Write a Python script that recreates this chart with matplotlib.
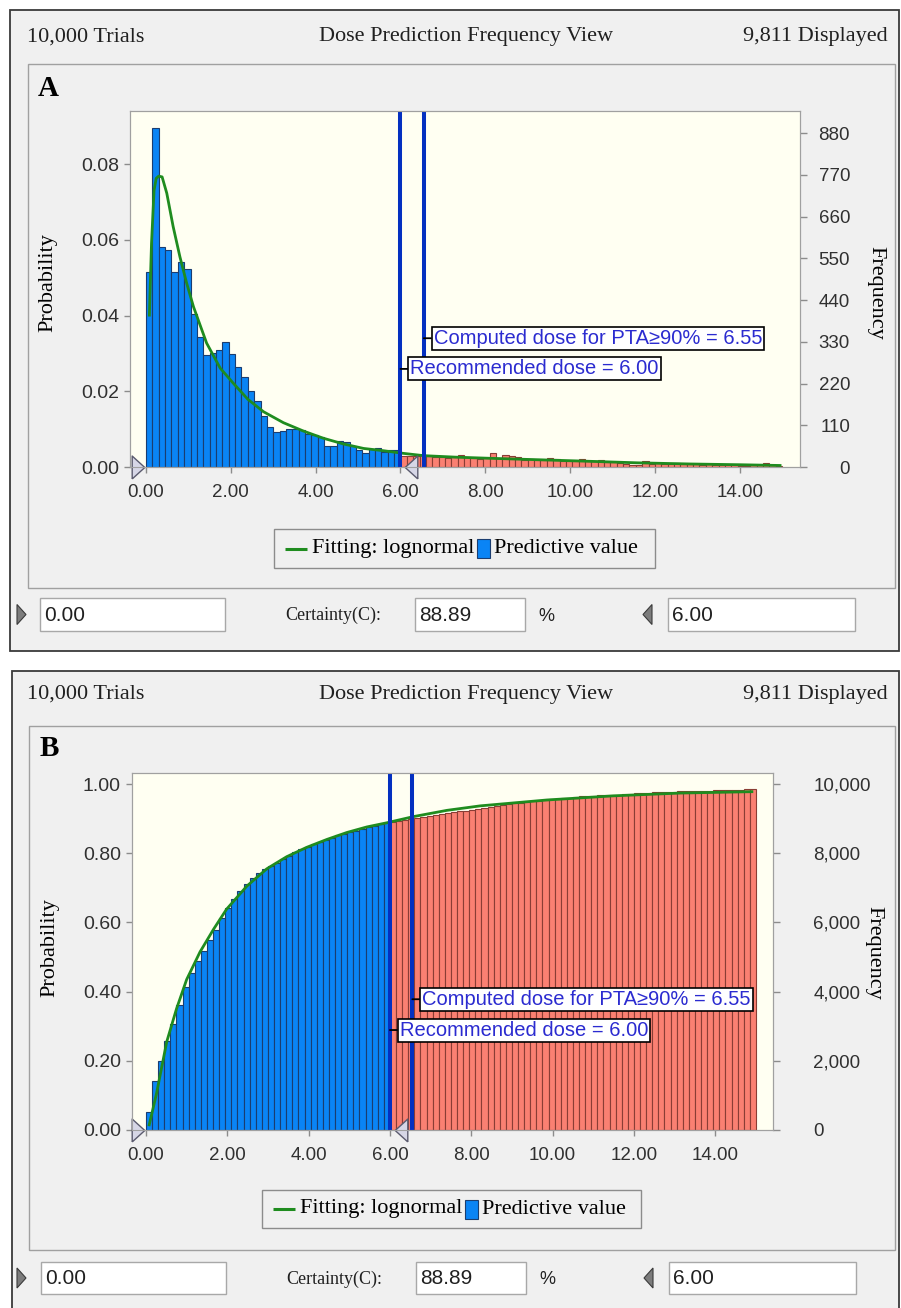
#!/usr/bin/env python3
"""Dose prediction views (Crystal Ball style): frequency (A) and cumulative (B)."""
import numpy as np
import matplotlib

matplotlib.use("Agg")
import matplotlib.pyplot as plt
from matplotlib.patches import Rectangle, Polygon

W, H = 901, 1308

# ---------------- data ----------------
bin_edges = np.linspace(0.0, 15.0, 101)  # 100 bins, 0.15 wide
cut_bin = 40  # bins below the 6.00 marker are blue

prob_freq = [
    0.0514, 0.0894, 0.0582, 0.0573, 0.0514, 0.0542, 0.0522, 0.0404, 0.0342, 0.0296,
    0.0300, 0.0309, 0.0331, 0.0298, 0.0263, 0.0237, 0.0201, 0.0173, 0.0135, 0.0106,
    0.0092, 0.0096, 0.0100, 0.0100, 0.0098, 0.0087, 0.0084, 0.0078, 0.0055, 0.0056,
    0.0069, 0.0065, 0.0055, 0.0045, 0.0038, 0.0047, 0.0049, 0.0040, 0.0045, 0.0045,
    0.0030, 0.0028, 0.0030, 0.0031, 0.0028, 0.0026, 0.0026, 0.0025, 0.0026, 0.0031,
    0.0027, 0.0024, 0.0021, 0.0023, 0.0036, 0.0023, 0.0032, 0.0029, 0.0027, 0.0019,
    0.0020, 0.0019, 0.0018, 0.0025, 0.0020, 0.0017, 0.0016, 0.0015, 0.0020, 0.0015,
    0.0016, 0.0019, 0.0013, 0.0012, 0.0011, 0.0008, 0.0006, 0.0006, 0.0015, 0.0009,
    0.0011, 0.0008, 0.0007, 0.0011, 0.0008, 0.0007, 0.0007, 0.0006, 0.0007, 0.0006,
    0.0006, 0.0004, 0.0004, 0.0003, 0.0003, 0.0004, 0.0005, 0.0011, 0.0004, 0.0002,
]

prob_cum = [
    0.0514, 0.1408, 0.1990, 0.2563, 0.3077, 0.3619, 0.4141, 0.4545, 0.4887, 0.5183,
    0.5483, 0.5792, 0.6123, 0.6421, 0.6684, 0.6921, 0.7122, 0.7295, 0.7430, 0.7536,
    0.7628, 0.7724, 0.7824, 0.7924, 0.8022, 0.8109, 0.8193, 0.8271, 0.8326, 0.8382,
    0.8451, 0.8516, 0.8571, 0.8616, 0.8654, 0.8701, 0.8750, 0.8790, 0.8835, 0.8880,
    0.8910, 0.8938, 0.8968, 0.8999, 0.9027, 0.9053, 0.9079, 0.9104, 0.9130, 0.9161,
    0.9188, 0.9212, 0.9233, 0.9256, 0.9292, 0.9315, 0.9347, 0.9376, 0.9403, 0.9422,
    0.9442, 0.9461, 0.9479, 0.9504, 0.9524, 0.9541, 0.9557, 0.9572, 0.9592, 0.9607,
    0.9623, 0.9642, 0.9655, 0.9667, 0.9678, 0.9686, 0.9692, 0.9698, 0.9713, 0.9722,
    0.9733, 0.9741, 0.9748, 0.9759, 0.9767, 0.9774, 0.9781, 0.9787, 0.9794, 0.9800,
    0.9806, 0.9810, 0.9814, 0.9817, 0.9820, 0.9824, 0.9829, 0.9840, 0.9844, 0.9846,
]

# lognormal fit
fit_freq_x = [0.08, 0.13, 0.19, 0.24, 0.30, 0.38, 0.49, 0.64, 0.80, 0.96, 1.12,
              1.43, 1.75, 2.06, 2.40, 2.77, 3.24, 3.71, 4.18, 4.65, 5.13, 5.60,
              6.07, 6.54, 7.30, 8.11, 9.30, 10.47, 11.60, 12.83, 14.00, 14.95]
fit_freq_y = [0.0401, 0.0590, 0.0730, 0.0762, 0.0768, 0.0766, 0.0723, 0.0635, 0.0555,
              0.0485, 0.0423, 0.0327, 0.0261, 0.0221, 0.0179, 0.0146, 0.0117, 0.0095,
              0.0076, 0.0061, 0.0049, 0.0043, 0.0036, 0.0030, 0.0026, 0.0023, 0.0019,
              0.0015, 0.0011, 0.0008, 0.0006, 0.0004]

fit_cum_x = [0.08, 0.26, 0.51, 0.75, 1.00, 1.33, 1.66, 1.98, 2.48, 2.97, 3.46, 3.95,
             4.45, 4.94, 5.43, 5.92, 6.58, 7.40, 8.22, 9.86, 11.50, 13.14, 14.90]
fit_cum_y = [0.015, 0.106, 0.255, 0.350, 0.435, 0.515, 0.580, 0.638, 0.705, 0.755,
             0.790, 0.817, 0.840, 0.860, 0.876, 0.888, 0.906, 0.924, 0.937, 0.954,
             0.966, 0.974, 0.978]

recommended_dose = 6.00
computed_dose = 6.55
lower_value = "0.00"
upper_value = "6.00"
certainty_value = "88.89"

trials_text = "10,000 Trials"
title_text = "Dose Prediction Frequency View"
displayed_text = "9,811 Displayed"
rec_label = "Recommended dose = 6.00"
comp_label = "Computed dose for PTA\u226590% = 6.55"

x_ticks = [0, 2, 4, 6, 8, 10, 12, 14]
x_ticklabels = ["0.00", "2.00", "4.00", "6.00", "8.00", "10.00", "12.00", "14.00"]

a_prob_ticks = [0.0, 0.02, 0.04, 0.06, 0.08]
a_prob_labels = ["0.00", "0.02", "0.04", "0.06", "0.08"]
a_freq_ticks = [0, 110, 220, 330, 440, 550, 660, 770, 880]
a_freq_labels = ["0", "110", "220", "330", "440", "550", "660", "770", "880"]

b_prob_ticks = [0.0, 0.2, 0.4, 0.6, 0.8, 1.0]
b_prob_labels = ["0.00", "0.20", "0.40", "0.60", "0.80", "1.00"]
b_freq_ticks = [0, 2000, 4000, 6000, 8000, 10000]
b_freq_labels = ["0", "2,000", "4,000", "6,000", "8,000", "10,000"]

# ---------------- style ----------------
PANEL = "#f0f0f0"
PLOT_BG = "#fffff2"
BLUE = "#0a84f5"
BLUE_EDGE = "#1b3d70"
SALMON = "#fa8072"
SALMON_EDGE = "#8a3d35"
GREEN = "#1f8c1f"
MARK_BLUE = "#0430c0"
ANN_BLUE = "#2b2bd0"
SPINE = "#a0a0a0"
SERIF = ["Liberation Serif", "DejaVu Serif"]
SANS = ["Liberation Sans", "DejaVu Sans"]

plt.rcParams["font.family"] = SANS

TRI_R = [(-0.55, -1), (0.55, 0), (-0.55, 1), (-0.55, -1)]
TRI_L = [(0.55, -1), (-0.55, 0), (0.55, 1), (0.55, -1)]


def px_axes(fig, left, top, right, bottom, **kw):
    return fig.add_axes([left / W, 1 - bottom / H, (right - left) / W, (bottom - top) / H], **kw)


def draw_chrome(bg, outer, inner, head_y, tag, tag_xy, leg, row_top, row_bot, dx=0):
    x0, y0, x1, y1 = outer
    bg.add_patch(Rectangle((x0, y0), x1 - x0, y1 - y0, fc=PANEL, ec="#3a3a3a", lw=1.3))
    bg.text(27, head_y, trials_text, family=SERIF, fontsize=16, va="center", ha="left", color="#202020")
    bg.text(466, head_y, title_text, family=SERIF, fontsize=16, va="center", ha="center", color="#202020")
    bg.text(888, head_y, displayed_text, family=SERIF, fontsize=16, va="center", ha="right", color="#202020")

    x0, y0, x1, y1 = inner
    bg.add_patch(Rectangle((x0, y0), x1 - x0, y1 - y0, fc=PANEL, ec=SPINE, lw=1.0))
    bg.text(tag_xy[0], tag_xy[1], tag, family=SERIF, fontsize=21, fontweight="bold", va="center", ha="left")

    # legend
    lx0, ly0, lx1, ly1 = leg
    lyc = (ly0 + ly1) / 2
    bg.add_patch(Rectangle((lx0, ly0), lx1 - lx0, ly1 - ly0, fc=PANEL, ec="#8c8c8c", lw=1.0))
    bg.plot([lx0 + 11, lx0 + 33], [lyc, lyc], color=GREEN, lw=2.2, solid_capstyle="butt")
    bg.text(lx0 + 38, lyc, "Fitting: lognormal", family=SERIF, fontsize=16, va="center", ha="left")
    bg.add_patch(Rectangle((lx0 + 203, lyc - 9.5), 13, 19, fc=BLUE, ec=BLUE_EDGE, lw=0.8))
    bg.text(lx0 + 220, lyc, "Predictive value", family=SERIF, fontsize=16, va="center", ha="left")

    # certainty row
    yc = (row_top + row_bot) / 2
    bg.add_patch(Polygon([(17, yc - 10), (26, yc), (17, yc + 10)], closed=True, fc="#7c7c7c", ec="#3a3a3a", lw=0.8))
    bg.add_patch(Polygon([(652 + dx, yc - 10), (643 + dx, yc), (652 + dx, yc + 10)], closed=True,
                         fc="#7c7c7c", ec="#3a3a3a", lw=0.8))
    for bx0, bx1, txt in ((40, 225, lower_value), (415, 525, certainty_value), (668, 855, upper_value)):
        bg.add_patch(Rectangle((bx0 + dx, row_top), bx1 - bx0, row_bot - row_top, fc="white", ec="#a8a8a8", lw=1.0))
        bg.text(bx0 + dx + 4, yc + 1, txt, family=SANS, fontsize=15, va="center", ha="left", color="#202020")
    bg.text(381 + dx, yc + 1, "Certainty(C):", family=SERIF, fontsize=13, va="center", ha="right", color="#202020")
    bg.text(546 + dx, yc + 2, "%", family=SANS, fontsize=13, va="center", ha="center", color="#202020")


def draw_plot(ax, heights, fit_x, fit_y, xlim, ylim, yt, ytl, rlim, rt, rtl, ann_y, tri_x,
              right_pad, right_ha):
    ax.set_facecolor(PLOT_BG)
    lefts = bin_edges[:-1]
    bw = bin_edges[1] - bin_edges[0]
    ax.bar(lefts[:cut_bin], heights[:cut_bin], width=bw, align="edge", color=BLUE,
           edgecolor=BLUE_EDGE, lw=0.8, zorder=2)
    ax.bar(lefts[cut_bin:], heights[cut_bin:], width=bw, align="edge", color=SALMON,
           edgecolor=SALMON_EDGE, lw=0.8, zorder=2)
    ax.plot(fit_x, fit_y, color=GREEN, lw=2.0, zorder=3)
    for d in (recommended_dose, computed_dose):
        ax.axvline(d, color=MARK_BLUE, lw=2.9, zorder=4)

    box = dict(boxstyle="square,pad=0.1", fc="white", ec="black", lw=1.2)
    arrow = dict(arrowstyle="-", color="black", lw=1.3, shrinkA=0, shrinkB=0)
    for dose, txt, yv in ((computed_dose, comp_label, ann_y[0]), (recommended_dose, rec_label, ann_y[1])):
        ax.annotate(txt, xy=(dose, yv), xytext=(7.0, 0), textcoords="offset points",
                    ha="left", va="center", fontsize=14.5, color=ANN_BLUE, family=SANS,
                    bbox=box, arrowprops=arrow, zorder=6)

    ax.plot([tri_x[0]], [0], ls="none", marker=TRI_R, ms=16.5, mfc="#d6d6e6", mec="#5a5a6e",
            mew=1.0, clip_on=False, zorder=7)
    ax.plot([tri_x[1]], [0], ls="none", marker=TRI_L, ms=16.5, mfc="#d6d6e6", mec="#5a5a6e",
            mew=1.0, clip_on=False, zorder=7)

    ax.set_xlim(*xlim)
    ax.set_ylim(*ylim)
    ax.set_xticks(x_ticks)
    ax.set_xticklabels(x_ticklabels)
    ax.set_yticks(yt)
    ax.set_yticklabels(ytl)
    ax.tick_params(colors="#8c8c8c", labelcolor="#303030", labelsize=13.5, length=4, width=1)
    ax.tick_params(axis="x", pad=8)
    ax.tick_params(axis="y", pad=4, labelsize=14)
    for s in ax.spines.values():
        s.set_color(SPINE)

    ax2 = ax.twinx()
    ax2.set_ylim(*rlim)
    ax2.set_yticks(rt)
    ax2.set_yticklabels(rtl, ha=right_ha)
    ax2.tick_params(axis="y", colors="#8c8c8c", labelcolor="#303030", labelsize=13.5,
                    length=5, width=1, pad=right_pad)
    for s in ax2.spines.values():
        s.set_color(SPINE)
    return ax2


fig = plt.figure(figsize=(W / 100, H / 100), dpi=100)
bg = fig.add_axes([0, 0, 1, 1], zorder=0)
bg.set_xlim(0, W)
bg.set_ylim(H, 0)
bg.axis("off")

# ---- panel A (frequency) ----
draw_chrome(bg, (10, 10, 899, 651), (28, 64, 895, 588), 37, "A", (38, 89),
            (274, 529, 655, 568), 598, 631)
bg.text(48, 283, "Probability", family=SERIF, fontsize=16, rotation=90, va="center", ha="center")
bg.text(876, 293, "Frequency", family=SERIF, fontsize=16, rotation=270, va="center", ha="center")

axA = px_axes(fig, 130, 111, 800, 467, zorder=2)
draw_plot(axA, prob_freq, fit_freq_x, fit_freq_y, (-0.377, 15.42), (0, 0.0940),
          a_prob_ticks, a_prob_labels, (0, 938), a_freq_ticks, a_freq_labels,
          ann_y=(0.0340, 0.0259), tri_x=(-0.20, 6.26), right_pad=31, right_ha="right")

# ---- panel B (cumulative) ----
draw_chrome(bg, (12, 671, 899, 1312), (29, 726, 895, 1250), 694, "B", (40, 748),
            (262, 1190, 641, 1228), 1262, 1294, dx=1)
bg.text(50, 948, "Probability", family=SERIF, fontsize=16, rotation=90, va="center", ha="center")
bg.text(874, 953, "Frequency", family=SERIF, fontsize=16, rotation=270, va="center", ha="center")

axB = px_axes(fig, 132, 773, 773, 1130, zorder=2)
draw_plot(axB, prob_cum, fit_cum_x, fit_cum_y, (-0.344, 15.42), (0, 1.032),
          b_prob_ticks, b_prob_labels, (0, 10320), b_freq_ticks, b_freq_labels,
          ann_y=(0.378, 0.289), tri_x=(-0.19, 6.27), right_pad=24, right_ha="left")

fig.savefig("out.png", dpi=100)
